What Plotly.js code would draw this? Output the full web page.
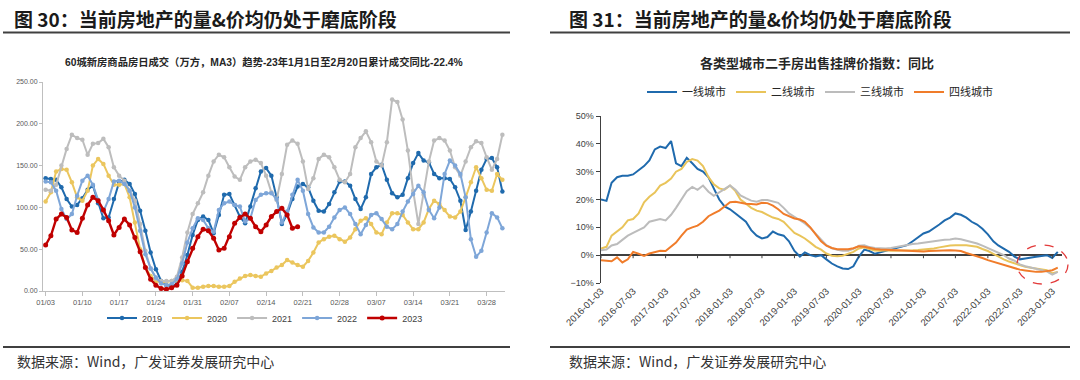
<!DOCTYPE html>
<html>
<head>
<meta charset="utf-8">
<script src="https://cdn.plot.ly/plotly-3.0.1.min.js"></script>
<style>
html,body{margin:0;padding:0;background:#fff;}
#chart{width:1080px;height:380px;}
</style>
</head>
<body>
<div id="chart"></div>
<script>
// ---------- Figure 30: 60-city daily new-home sales (10k sqm, MA3) ----------
// day labels 01/03 ... 03/31 (88 days)
const dayLabels = [];
for (let d = 0; d < 88; d++) {
  const dt = new Date(2019, 0, 3 + d);
  dayLabels.push(String(dt.getMonth() + 1).padStart(2, '0') + '/' + String(dt.getDate()).padStart(2, '0'));
}
const dayTicks = ['01/03','01/10','01/17','01/24','01/31','02/07','02/14','02/21','02/28','03/07','03/14','03/21','03/28'];
const yearNames = ['2019','2020','2021','2022','2023'];

const sales2019 = [135,134,133,124,110,101,103,111,121,126,
  105,87,88,110,130,133,128,116,96,72,
  46,26,12,7,6,8,23,43,67,85,
  89,85,69,91,115,116,103,89,81,101,
  123,143,147,138,112,80,92,110,125,128,
  124,108,96,95,104,118,131,131,126,110,
  98,112,140,148,151,133,117,112,115,135,
  153,165,156,154,140,135,135,134,124,108,
  73,95,120,145,158,159,148,119];
const sales2020 = [107,118,143,146,145,130,112,108,120,150,
  158,152,138,127,127,128,112,82,50,28,
  18,12,10,11,12,13,13,12,4,4,
  5,6,6,5,5,6,11,15,18,19,
  18,17,21,24,28,31,37,34,31,29,
  36,46,58,62,65,66,62,59,64,74,
  84,87,80,70,68,82,93,93,91,82,
  74,74,82,98,108,104,97,89,88,95,
  112,130,148,135,121,120,140,133];
const sales2021 = [121,120,127,150,170,187,183,181,163,176,
  177,182,172,148,138,132,120,108,80,48,
  27,15,12,12,12,17,40,70,92,105,
  118,138,155,163,160,148,137,133,148,155,
  157,153,138,118,109,140,175,180,176,155,
  122,135,158,163,160,148,133,130,140,172,
  183,191,178,155,150,178,229,226,205,168,
  120,80,115,155,180,183,180,168,148,138,
  155,172,179,177,160,145,158,187];
const sales2022 = [131,130,120,98,86,92,114,132,138,127,
  109,95,110,131,132,128,120,100,72,44,
  27,16,9,7,8,14,33,58,75,87,
  85,75,71,97,105,107,103,101,83,87,
  109,115,117,117,110,82,95,115,133,120,
  92,76,70,70,77,88,97,100,92,80,
  68,79,91,93,86,77,74,80,95,107,
  116,126,118,97,87,100,140,156,150,140,
  112,62,41,48,70,93,88,75];
const sales2023 = [55,66,86,92,88,73,70,87,103,112,
  108,97,84,67,76,86,79,64,47,28,
  14,7,3,2,4,7,18,35,51,65,
  74,72,63,49,51,65,81,88,92,87,
  77,71,79,89,95,99,91,75,77];

// ---------- Figure 31: second-hand listing price index YoY by city tier ----------
const monthDates = [];
for (let m = 0; m < 86; m++) {
  const y = 2016 + Math.floor(m / 12);
  const mo = (m % 12) + 1;
  monthDates.push(y + '-' + String(mo).padStart(2, '0') + '-03');
}
const dateTicks = ['2016-01-03','2016-07-03','2017-01-03','2017-07-03','2018-01-03','2018-07-03',
  '2019-01-03','2019-07-03','2020-01-03','2020-07-03','2021-01-03','2021-07-03',
  '2022-01-03','2022-07-03','2023-01-03'];
const tierNames = ['一线城市','二线城市','三线城市','四线城市'];

const tier1 = [20,19.5,26,28,28.5,28.5,29,30.5,32,34,
  38,39,38.5,41,33,32,35,33,31,30,
  28,24,20,17.5,16.5,15,13.5,12,9,7,
  6,6.5,8.5,7.5,7,5,1.5,-0.5,1,0,
  -0.5,0,-1.5,-3,-4,-4.8,-5,-4,-0.5,2,
  1.5,0.5,1,1.5,2,2.5,3,3.6,5,6.5,
  7.8,8.5,9.6,11,12.5,13.5,15,14.5,13.5,12,
  11,9.5,7.5,5,3.5,2.4,1.2,-0.5,-1.5,-1.2,
  -0.8,-0.6,-0.3,0,-1,1.2];
const tier2 = [2.4,3,7,8.5,10,12.5,13,15,19,21,
  22.5,25,26,27.5,30,31,33.5,34.5,34,32,
  28,25.5,24,23.5,25,23,20,18.5,17,16,
  15.5,14.5,13.5,13,12,10,8,7,6,4.5,
  3,2,0.6,-0.2,-0.4,-0.2,0.5,1.2,2.4,2.8,
  2.2,1.7,1.6,1.8,1.6,1.6,1.6,1.7,1.8,1.9,
  2,2.2,2.4,2.8,3.2,3.5,3.6,3.6,3.6,3.3,
  3,2.2,1.5,0.5,-0.5,-1.5,-2.3,-3,-3.7,-4.2,
  -4.5,-4.8,-5,-5.4,-6.5,-6];
const tier3 = [1.8,2,3.5,4,5.5,7,8,9,10,12,
  12.5,13,12.5,14.5,17,20,23,24.5,23.5,25,
  22.8,21.3,22.5,23.5,25,23.5,21.5,20.5,19.6,19.2,
  19.8,19.8,19.4,18.8,17,15,13.8,12.6,11.4,9.8,
  7.8,5.5,3.6,2.5,1.9,1.6,1.6,2.3,3.4,3.6,
  2.9,2.6,2.4,2.4,2.6,3,3.3,3.6,4,4.2,
  4.5,4.8,5.1,5.4,5.5,5.6,6,5.7,5.2,4.6,
  4.2,3.4,2.6,1.7,0.8,0,-1.2,-2,-3.3,-4,
  -4.4,-4.8,-5.2,-5.8,-7,-6];
const tier4 = [-1.8,-2.1,-2.2,-0.8,-2.6,-1.5,1.2,0.5,-0.3,0.6,
  1.1,1.6,1.5,3,4.5,7,9.2,10,10.6,12,
  14,15,16,17.5,19,19.2,18.8,18.5,18.4,18.2,
  18.8,18.7,17.8,16.5,14.8,14,13.2,12.8,12,10,
  7.5,5,3.4,2.6,2.1,2,2.1,2.5,3.2,3,
  2.5,2.2,2,1.9,1.8,1.7,1.5,1.4,1.3,1.2,
  1.3,1.5,1.6,1.6,1.7,1.8,1.7,1.5,0.8,0.2,
  -0.3,-1,-1.8,-2.4,-3,-3.5,-4,-4.6,-5.2,-5.5,
  -5.8,-6,-6,-5.8,-5.4,-4.5];

// ---------- build ----------
const W = 1080, H = 380;
const px = v => v / W;
const py = v => 1 - v / H;
const FONT = 'Liberation Sans, Arial, Noto Sans CJK SC, sans-serif';
const CJK = 'Noto Sans CJK SC, sans-serif';

const yearColors = ['#1f6aad', '#ebc65e', '#bdbdbd', '#7ea6d8', '#c00000'];
const yearSeries = [sales2019, sales2020, sales2021, sales2022, sales2023];
const traces = [];
yearSeries.forEach((s, i) => {
  const red = i === 4;
  traces.push({
    type: 'scatter', mode: 'lines+markers', name: yearNames[i],
    x: dayLabels.slice(0, s.length), y: s,
    xaxis: 'x', yaxis: 'y', legend: 'legend',
    line: {color: yearColors[i], width: red ? 2.4 : 2},
    marker: {color: yearColors[i], size: red ? 5 : 4.5},
    hoverinfo: 'skip'
  });
});

const tierColors = ['#1f6aad', '#e9c45a', '#bcbcbc', '#f07c2a'];
[tier1, tier2, tier3, tier4].forEach((s, i) => {
  traces.push({
    type: 'scatter', mode: 'lines', name: tierNames[i],
    x: monthDates.slice(0, s.length), y: s,
    xaxis: 'x2', yaxis: 'y2', legend: 'legend2',
    line: {color: tierColors[i], width: 2},
    hoverinfo: 'skip'
  });
});

const shapes = [
  // header rules
  {type: 'line', xref: 'paper', yref: 'paper', x0: px(3), x1: px(510), y0: py(32.5), y1: py(32.5), line: {color: '#404040', width: 2}},
  {type: 'line', xref: 'paper', yref: 'paper', x0: px(550), x1: px(1070), y0: py(32.5), y1: py(32.5), line: {color: '#404040', width: 2}},
  // footer rules
  {type: 'line', xref: 'paper', yref: 'paper', x0: px(3), x1: px(510), y0: py(347), y1: py(347), line: {color: '#404040', width: 2}},
  {type: 'line', xref: 'paper', yref: 'paper', x0: px(550), x1: px(1070), y0: py(347), y1: py(347), line: {color: '#404040', width: 2}},
  // highlight ellipse
  {type: 'circle', xref: 'paper', yref: 'paper', x0: px(1017), x1: px(1068), y0: py(284), y1: py(245), line: {color: '#e33b3b', width: 1.3, dash: 'dash'}}
];
// tick marks on the 0% axis line of figure 31
dateTicks.forEach(t => {
  shapes.push({type: 'line', xref: 'x2', yref: 'y2', x0: t, x1: t, y0: 0, y1: -1.1, line: {color: '#404040', width: 1}});
});

const annotations = [
  {text: '图 30：当前房地产的量&amp;价均仍处于磨底阶段', xref: 'paper', yref: 'paper', x: px(12), y: py(18), xanchor: 'left', yanchor: 'middle', showarrow: false,
   font: {family: CJK, size: 19, color: '#1a1a1a', weight: 700}},
  {text: '图 31：当前房地产的量&amp;价均仍处于磨底阶段', xref: 'paper', yref: 'paper', x: px(567), y: py(18), xanchor: 'left', yanchor: 'middle', showarrow: false,
   font: {family: CJK, size: 19, color: '#1a1a1a', weight: 700}},
  {text: '60城新房商品房日成交（万方，MA3）趋势-23年1月1日至2月20日累计成交同比-22.4%', xref: 'paper', yref: 'paper', x: px(264), y: py(61.5), xanchor: 'center', yanchor: 'middle', showarrow: false,
   font: {family: FONT, size: 10.3, color: '#262626', weight: 700}},
  {text: '各类型城市二手房出售挂牌价指数：同比', xref: 'paper', yref: 'paper', x: px(817), y: py(63), xanchor: 'center', yanchor: 'middle', showarrow: false,
   font: {family: CJK, size: 13, color: '#262626', weight: 700}},
  {text: '数据来源：Wind，广发证券发展研究中心', xref: 'paper', yref: 'paper', x: px(15), y: py(361), xanchor: 'left', yanchor: 'middle', showarrow: false,
   font: {family: CJK, size: 14, color: '#333333'}},
  {text: '数据来源：Wind，广发证券发展研究中心', xref: 'paper', yref: 'paper', x: px(567), y: py(361), xanchor: 'left', yanchor: 'middle', showarrow: false,
   font: {family: CJK, size: 14, color: '#333333'}}
];

const layout = {
  width: W, height: H,
  margin: {l: 0, r: 0, t: 0, b: 0},
  paper_bgcolor: '#ffffff', plot_bgcolor: 'rgba(0,0,0,0)',
  font: {family: FONT, color: '#404040'},
  hovermode: false,
  xaxis: {
    domain: [px(43), px(505)], anchor: 'y', type: 'category',
    categoryorder: 'array', categoryarray: dayLabels, range: [-0.5, 87.5],
    tickvals: dayTicks, ticktext: dayTicks,
    showline: true, linecolor: '#bfbfbf', linewidth: 1,
    ticks: 'outside', ticklen: 4, tickcolor: '#bfbfbf',
    tickfont: {size: 7.5, color: '#595959'}, showgrid: false, zeroline: false
  },
  yaxis: {
    domain: [py(291), py(82)], anchor: 'x', range: [0, 250],
    tickvals: [0, 50, 100, 150, 200, 250], tickformat: '.2f',
    showline: true, linecolor: '#bfbfbf', linewidth: 1,
    ticks: 'outside', ticklen: 3, tickcolor: '#bfbfbf',
    tickfont: {size: 7, color: '#595959'}, showgrid: false, zeroline: false
  },
  xaxis2: {
    domain: [px(601), px(1062)], anchor: 'y2', type: 'date',
    range: ['2016-01-03', '2023-02-27'],
    tickvals: dateTicks, ticktext: dateTicks, tickangle: -45,
    showline: false, ticks: '', showgrid: false, zeroline: false,
    tickfont: {size: 9.5, color: '#404040'}
  },
  yaxis2: {
    domain: [py(283), py(116)], anchor: 'x2', range: [-10, 50], dtick: 10, ticksuffix: '%',
    showline: true, linecolor: '#404040', linewidth: 1.5,
    ticks: 'outside', ticklen: 4, tickcolor: '#404040',
    tickfont: {size: 9, color: '#404040'}, showgrid: false,
    zeroline: true, zerolinecolor: '#404040', zerolinewidth: 1.5
  },
  legend: {
    orientation: 'h', x: px(265), xanchor: 'center', y: py(318), yanchor: 'middle',
    font: {family: FONT, size: 9, color: '#404040'}, bgcolor: 'rgba(0,0,0,0)', itemwidth: 30
  },
  legend2: {
    orientation: 'h', x: px(820), xanchor: 'center', y: py(92), yanchor: 'middle',
    font: {family: CJK, size: 11, color: '#262626'}, bgcolor: 'rgba(0,0,0,0)', itemwidth: 30
  },
  shapes: shapes,
  annotations: annotations
};

Plotly.newPlot('chart', traces, layout, {staticPlot: true, displayModeBar: false});
</script>
</body>
</html>
